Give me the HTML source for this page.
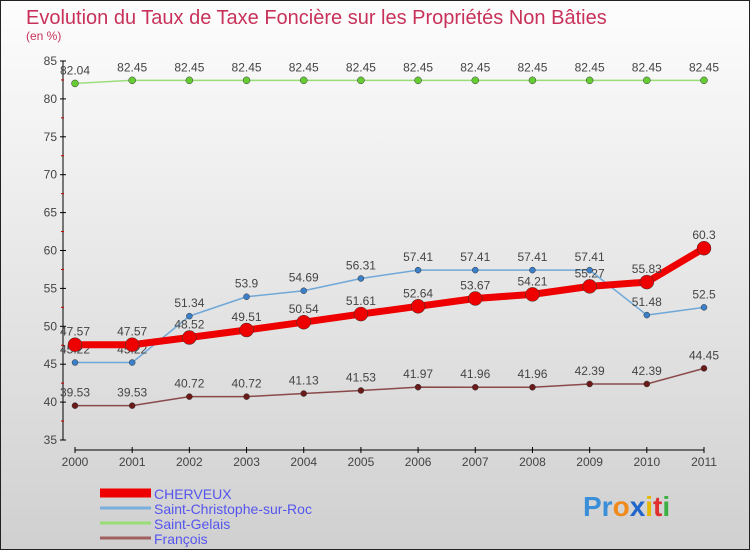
<!DOCTYPE html>
<html><head><meta charset="utf-8"><style>
body{margin:0;width:750px;height:550px;overflow:hidden;font-family:"Liberation Sans",sans-serif}
</style></head><body>
<svg id="c" width="750" height="550" xmlns="http://www.w3.org/2000/svg">
<defs><linearGradient id="bg" x1="0" y1="0" x2="0" y2="1"><stop offset="0" stop-color="#fdfdfd"/><stop offset="1" stop-color="#d0d0d0"/></linearGradient></defs>
<rect x="0.5" y="0.5" width="749" height="549" fill="url(#bg)" stroke="#222"/>
<text x="26" y="24" font-size="20" fill="#c8325a">Evolution du Taux de Taxe Foncière sur les Propriétés Non Bâties</text>
<text x="26" y="40" font-size="12" fill="#c8325a">(en %)</text>
<g id="axes"></g><g id="series"></g><g id="legend"></g>
<text x="583" y="516" font-size="28" font-weight="bold"><tspan fill="#3a8fd8">Pr</tspan><tspan fill="#f08a1c">o</tspan><tspan fill="#2266cc">x</tspan><tspan fill="#e6b800">i</tspan><tspan fill="#e03030">t</tspan><tspan fill="#3cb043">i</tspan></text>
</svg>
<script>
const years=["2000","2001","2002","2003","2004","2005","2006","2007","2008","2009","2010","2011"];
const yTicks=[35,40,45,50,55,60,65,70,75,80,85];
const cherveux=[47.57,47.57,48.52,49.51,50.54,51.61,52.64,53.67,54.21,55.27,55.83,60.3];
const stChristophe=[45.22,45.22,51.34,53.9,54.69,56.31,57.41,57.41,57.41,57.41,51.48,52.5];
const stGelais=[82.04,82.45,82.45,82.45,82.45,82.45,82.45,82.45,82.45,82.45,82.45,82.45];
const francois=[39.53,39.53,40.72,40.72,41.13,41.53,41.97,41.96,41.96,42.39,42.39,44.45];
const seriesNames=["CHERVEUX","Saint-Christophe-sur-Roc","Saint-Gelais","François"];
const NS="http://www.w3.org/2000/svg";
const X=i=>75+i*(704-75)/11;
const Y=v=>440-(v-35)*(440-61)/50;
function mk(t,a,p){const e=document.createElementNS(NS,t);for(const k in a)e.setAttribute(k,a[k]);p.appendChild(e);return e;}
const ax=document.getElementById('axes');
let e=mk('line',{x1:63,y1:61,x2:63,y2:440,stroke:'#000'},ax);


e=mk('line',{x1:75,y1:450,x2:704,y2:450,stroke:'#000'},ax);


yTicks.forEach(v=>{mk('line',{x1:60,y1:Y(v),x2:66,y2:Y(v),stroke:'#000'},ax);
 if(v<85)mk('line',{x1:61,y1:Y(v+2.5),x2:64,y2:Y(v+2.5),stroke:'#c00'},ax);
 const t=mk('text',{x:57,y:Y(v)+4,'font-size':12,'text-anchor':'end',fill:'#444'},ax);t.textContent=v;
 
 });
years.forEach((y,i)=>{mk('line',{x1:X(i),y1:447,x2:X(i),y2:453,stroke:'#000'},ax);
 const t=mk('text',{x:X(i),y:466,'font-size':12,'text-anchor':'middle',fill:'#444'},ax);t.textContent=y;
 
 });
const sg=document.getElementById('series');
function draw(data,color,dot,w,r,name,fmt){
 const g=mk('g',{},sg);
 
 
 mk('polyline',{points:data.map((v,i)=>X(i)+','+Y(v)).join(' '),fill:'none',stroke:color,'stroke-width':w,'stroke-linejoin':'round'},g);
 data.forEach((v,i)=>{const c=mk('circle',{cx:X(i),cy:Y(v),r:r,fill:dot,stroke:'#333','stroke-width':0.5},g);
  
  
  const t=mk('text',{x:X(i),y:Y(v)-9,'font-size':12,'text-anchor':'middle',fill:'#444'},g);t.textContent=String(v);
  
  });
}
draw(francois,'#8a4a4a','#6b1a1a',1.5,3,'series-francois');
draw(stGelais,'#99dd77','#66cc33',1.5,3.5,'series-saint-gelais');
draw(stChristophe,'#6fa8d8','#3a7fc8',1.5,3,'series-saint-christophe');
draw(cherveux,'#ee0000','#ee0000',7,7,'series-cherveux');
const lg=document.getElementById('legend');
const lc=['#ee0000','#7aaedd','#99dd77','#a06060'],lw=[9,3,3,3];
seriesNames.forEach((n,i)=>{const y=493+i*15;
 const g=mk('g',{},lg);
 
 
 mk('line',{x1:100,y1:y,x2:151,y2:y,stroke:lc[i],'stroke-width':lw[i]},g);
 const t=mk('text',{x:154,y:y+6,'font-size':14,fill:'#5555ee'},g);t.textContent=n;});
</script>
</body></html>
